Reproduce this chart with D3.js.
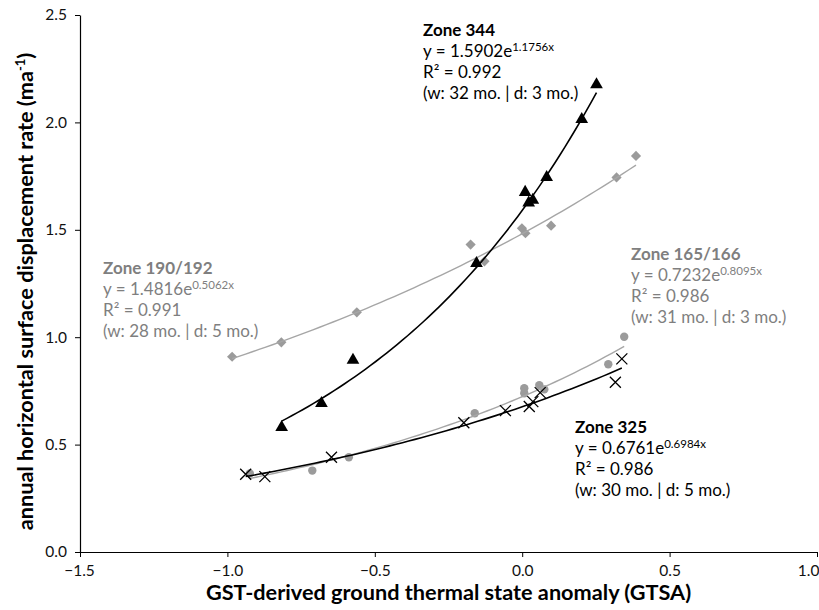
<!DOCTYPE html>
<html>
<head>
<meta charset="utf-8">
<script src="https://cdn.jsdelivr.net/npm/d3@7"></script>
<style>
  html, body { margin: 0; padding: 0; background: #fff; }
  svg { display: block; font-family: Lato, "Open Sans", sans-serif; }
</style>
</head>
<body>
<svg id="chart" width="819" height="610"></svg>
<script>
// ---- data ----
const xTicks = [-1.5, -1.0, -0.5, 0.0, 0.5, 1.0];
const yTicks = [0.0, 0.5, 1.0, 1.5, 2.0, 2.5];

const zone344X = [-0.816, -0.681, -0.574, -0.155, 0.010, 0.022, 0.036, 0.083, 0.202, 0.252];
const zone344Y = [0.580, 0.692, 0.894, 1.344, 1.675, 1.625, 1.638, 1.744, 2.014, 2.176];

const zone190X = [-0.984, -0.817, -0.561, -0.175, -0.128, -0.001, 0.011, 0.098, 0.320, 0.386];
const zone190Y = [0.909, 0.976, 1.116, 1.431, 1.353, 1.507, 1.484, 1.519, 1.744, 1.844];

const zone165X = [-0.924, -0.712, -0.588, -0.161, 0.007, 0.007, 0.058, 0.075, 0.292, 0.346];
const zone165Y = [0.366, 0.379, 0.441, 0.646, 0.762, 0.739, 0.777, 0.757, 0.874, 1.002];

const zone325X = [-0.938, -0.873, -0.647, -0.198, -0.057, 0.024, 0.036, 0.061, 0.316, 0.338];
const zone325Y = [0.362, 0.351, 0.441, 0.602, 0.658, 0.677, 0.700, 0.742, 0.790, 0.899];

// exponential fit coefficients  y = a * e^(b x)
const fitA = [1.5902, 1.4816, 0.7232, 0.6761];
const fitB = [1.1756, 0.5062, 0.8095, 0.6984];

const zoneNames = ["Zone 344", "Zone 190/192", "Zone 165/166", "Zone 325"];
const eqA = ["1.5902", "1.4816", "0.7232", "0.6761"];
const eqB = ["1.1756x", "0.5062x", "0.8095x", "0.6984x"];
const r2 = ["0.992", "0.991", "0.986", "0.986"];
const windows = ["(w: 32 mo. | d: 3 mo.)", "(w: 28 mo. | d: 5 mo.)", "(w: 31 mo. | d: 3 mo.)", "(w: 30 mo. | d: 5 mo.)"];

// ---- chart ----
const svg = d3.select("#chart");
const x = d3.scaleLinear().domain([-1.5, 1.0]).range([80, 817]);
const y = d3.scaleLinear().domain([0, 2.5]).range([552, 15]);

const GRAY_MARK = "#9b9b9b";
const GRAY_LINE = "#a6a6a6";
const GRAY_TEXT = "#7f7f7f";

// axes
const xAxis = svg.append("g").attr("transform", `translate(0,${y(0)})`)
  .call(d3.axisBottom(x).tickValues(xTicks).tickFormat(d3.format(".1f")).tickSize(5).tickPadding(8).tickSizeOuter(0));
const yAxis = svg.append("g").attr("transform", `translate(${x(-1.5)},0)`)
  .call(d3.axisLeft(y).tickValues(yTicks).tickFormat(d3.format(".1f")).tickSize(5).tickPadding(8).tickSizeOuter(0));
[xAxis, yAxis].forEach(g => {
  g.selectAll("text").attr("font-family", "Lato, sans-serif").attr("font-size", 15.5).attr("fill", "#111");
  g.select(".domain").attr("stroke", "#000").attr("stroke-width", 1.2);
  g.selectAll(".tick line").attr("stroke", "#000");
});
xAxis.selectAll(".tick text").filter(d => d === 1.0).attr("text-anchor", "end").attr("dx", 2);
xAxis.selectAll(".tick text").filter(d => d === -1.5).attr("dx", -1);

// axis titles
svg.append("text")
  .attr("x", (x(-1.5) + x(1.0)) / 2).attr("y", 600)
  .attr("text-anchor", "middle").attr("font-weight", "bold").attr("font-size", 21.7)
  .text("GST-derived ground thermal state anomaly (GTSA)");

const yt = svg.append("text")
  .attr("transform", `translate(33,${(y(0) + y(2.5)) / 2 + 8}) rotate(-90)`)
  .attr("text-anchor", "middle").attr("font-weight", "bold").attr("font-size", 21.7);
yt.append("tspan").text("annual horizontal surface displacement rate (ma");
yt.append("tspan").attr("font-size", 13).attr("dy", -8).text("-1");
yt.append("tspan").attr("dy", 8).text(")");

// trend lines
const seriesX = [zone344X, zone190X, zone165X, zone325X];
const lineColors = ["#000", GRAY_LINE, GRAY_LINE, "#000"];
const lineWidths = [1.6, 1.4, 1.4, 1.6];
const line = d3.line().x(d => x(d[0])).y(d => y(d[1]));

function drawTrend(i) {
  const [lo, hi] = d3.extent(seriesX[i]);
  const pts = d3.range(0, 61).map(k => {
    const xv = lo + (hi - lo) * k / 60;
    return [xv, fitA[i] * Math.exp(fitB[i] * xv)];
  });
  svg.append("path").datum(pts).attr("d", line)
    .attr("fill", "none").attr("stroke", lineColors[i]).attr("stroke-width", lineWidths[i]);
}

// markers
function drawDiamonds(xs, ys) {
  svg.append("g").selectAll("path").data(d3.zip(xs, ys)).join("path")
    .attr("d", d3.symbol(d3.symbolSquare, 52))
    .attr("transform", d => `translate(${x(d[0])},${y(d[1])}) rotate(45)`)
    .attr("fill", GRAY_MARK);
}
function drawCircles(xs, ys) {
  svg.append("g").selectAll("circle").data(d3.zip(xs, ys)).join("circle")
    .attr("cx", d => x(d[0])).attr("cy", d => y(d[1])).attr("r", 4.2)
    .attr("fill", GRAY_MARK);
}
function drawTriangles(xs, ys) {
  svg.append("g").selectAll("path").data(d3.zip(xs, ys)).join("path")
    .attr("d", d3.symbol(d3.symbolTriangle, 70))
    .attr("transform", d => `translate(${x(d[0])},${y(d[1])})`)
    .attr("fill", "#000");
}
function drawCrosses(xs, ys) {
  svg.append("g").selectAll("path").data(d3.zip(xs, ys)).join("path")
    .attr("d", "M-5.5,-5.5L5.5,5.5M-5.5,5.5L5.5,-5.5")
    .attr("transform", d => `translate(${x(d[0])},${y(d[1])})`)
    .attr("stroke", "#000").attr("stroke-width", 1.3).attr("fill", "none");
}

drawDiamonds(zone190X, zone190Y);
drawCircles(zone165X, zone165Y);
drawTrend(1);
drawTrend(2);
drawTriangles(zone344X, zone344Y);
drawCrosses(zone325X, zone325Y);
drawTrend(0);
drawTrend(3);

// annotations
const annPos = [[423, 36], [103, 274], [631, 260], [575, 433]];
const annColors = ["#000", GRAY_TEXT, GRAY_TEXT, "#000"];
annPos.forEach((p, i) => {
  const g = svg.append("g").attr("fill", annColors[i]).attr("font-size", 17);
  g.append("text").attr("x", p[0]).attr("y", p[1]).attr("font-weight", "bold").text(zoneNames[i]);
  const eq = g.append("text").attr("x", p[0]).attr("y", p[1] + 21);
  eq.append("tspan").text(`y = ${eqA[i]}e`);
  eq.append("tspan").attr("font-size", 11.5).attr("dy", -6).text(eqB[i]);
  g.append("text").attr("x", p[0]).attr("y", p[1] + 42).text(`R² = ${r2[i]}`);
  g.append("text").attr("x", p[0]).attr("y", p[1] + 63).text(windows[i]);
});
</script>
</body>
</html>
